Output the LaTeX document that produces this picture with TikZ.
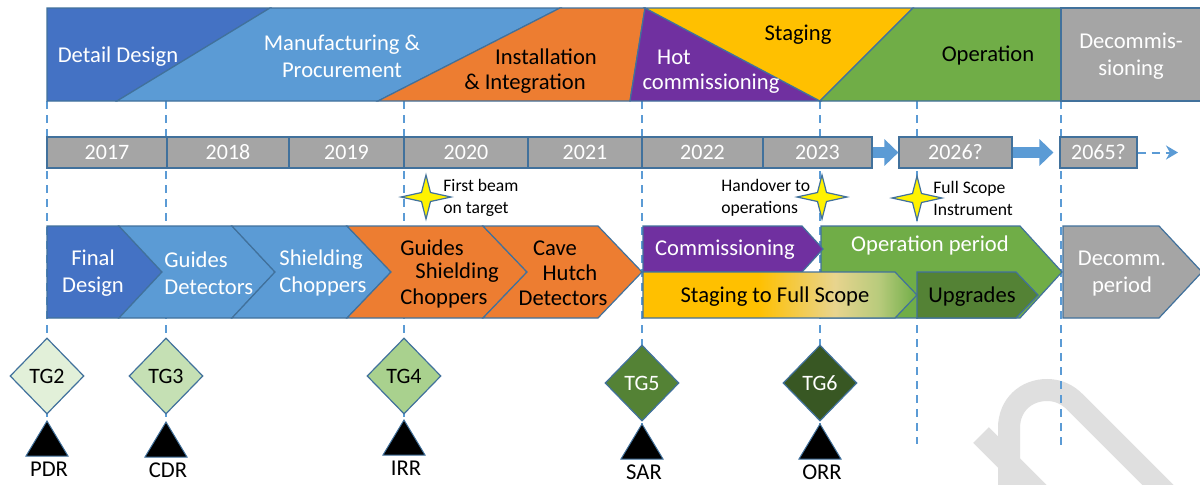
\documentclass[tikz,border=0pt]{standalone}
\usepackage{fontspec}
\setmainfont{Carlito}
\usepackage{xcolor}
\usepackage{tikz}
\usetikzlibrary{positioning, shapes, calc, arrows.meta}
\usetikzlibrary{shapes.geometric}

\definecolor{dblue}{HTML}{4472C4}
\definecolor{lblue}{HTML}{5B9BD5}
\definecolor{orng}{HTML}{ED7D31}
\definecolor{purp}{HTML}{7030A0}
\definecolor{yell}{HTML}{FFC000}
\definecolor{grn}{HTML}{70AD47}
\definecolor{gry}{HTML}{A5A5A5}
\definecolor{dgrn}{HTML}{548235}
\definecolor{ddgrn}{HTML}{385723}
\definecolor{rim}{HTML}{41719C}
\definecolor{tgtwo}{HTML}{E2F0D9}
\definecolor{tgthree}{HTML}{C5E0B4}
\definecolor{tgfour}{HTML}{A9D18E}
\definecolor{cream}{HTML}{E8D48E}
\definecolor{lgrn}{HTML}{B8CB7C}

\pgfdeclarehorizontalshading{stagefade}{100bp}{color(0bp)=(yell); color(25bp)=(yell); color(46bp)=(yell); color(60bp)=(cream); color(68bp)=(lgrn); color(75bp)=(grn); color(100bp)=(grn)}

\tikzset{
	band/.style={draw=rim, line width=0.6pt},
	guide/.style={draw=lblue, line width=1pt, dash pattern=on 4pt off 3pt},
	yearbox/.style={draw=rim, line width=0.6pt, fill=gry, text=white, minimum height=15.5pt, inner sep=0pt, font=\fontsize{11}{13}\selectfont},
	bigtext/.style={inner sep=0pt, font=\fontsize{11.3}{13.5}\selectfont},
	chevtext/.style={inner sep=0pt, align=left, font=\fontsize{11.3}{13.5}\selectfont},
	note/.style={inner sep=0pt, align=left, font=\fontsize{8.8}{11}\selectfont},
	gate/.style={diamond, draw=rim, line width=0.6pt, minimum width=37pt, minimum height=38pt, inner sep=0pt, font=\fontsize{11}{13}\selectfont},
	review/.style={fill=black, draw=rim, line width=0.5pt},
	starmark/.style={fill=yellow, draw=rim, line width=0.6pt},
	yeararrow/.style={draw=lblue, line width=5.5pt, -{Triangle[length=7pt,width=13pt]}}
}

\begin{document}
\begin{tikzpicture}[x=0.5pt, y=-0.5pt]
			\useasboundingbox (0,0) rectangle (1200,484);
			\fill [white] (0,0) rectangle (1200,484);
			
			% watermark
			\draw [gray!25, line width=11pt] (981,435) -- (1040,494);
			\draw [gray!25, line width=11pt] (1009,495) -- (1009,428) .. controls (1009,405) and (1026,390) .. (1047,390) .. controls (1059,390) and (1068,395) .. (1075,402) -- (1170,497);
			
			\foreach \gx/\gy in {47/421, 166/422, 404/420, 642/424, 820/424, 917/444, 1061/447}
				\draw [guide] (\gx,101) -- (\gx,\gy);
			
			\draw [band, fill=dblue] (47,8) -- (270,8) -- (117,101) -- (47,101) -- cycle;
			\draw [band, fill=lblue] (270,8) -- (560,8) -- (378,101) -- (117,101) -- cycle;
			\draw [band, fill=orng] (560,8) -- (645,8) -- (630,101) -- (378,101) -- cycle;
			\draw [band, fill=purp] (645,8) -- (820,101) -- (630,101) -- cycle;
			\draw [band, fill=yell] (645,8) -- (913,8) -- (820,101) -- cycle;
			\draw [band, fill=grn] (913,8) -- (1061,8) -- (1061,101) -- (820,101) -- cycle;
			\draw [band, fill=gry] (1061,8) -- (1202,8) -- (1202,101) -- (1061,101) -- cycle;
			
			\node [bigtext, text=white] (tdetail) at (118,57) {Detail Design};
			\node [bigtext, text=white, align=center] (tmanu) at (342,56) {Manufacturing \&\\Procurement};
			\node [bigtext] (tinst) at (546,57) {Installation};
			\node [bigtext] (tinteg) at (525,84) {\& Integration};
			\node [bigtext, text=white] (thot) at (674,57) {Hot};
			\node [bigtext, text=white] (thotcomm) at (711,84) {commissioning};
			\node [bigtext] (tstaging) at (798,35) {Staging};
			\node [bigtext] (toper) at (988,55) {Operation};
			\node [bigtext, text=white, align=center] (tdecom) at (1131,56) {Decommis-\\sioning};
			
			\foreach \a/\b/\n/\t in {47/167/y2017/2017, 167/289/y2018/2018, 289/404/y2019/2019, 404/528/y2020/2020, 528/642/y2021/2021, 642/763/y2022/2022, 763/872/y2023/2023, 899/1012/y2026/2026?, 1060/1137/y2065/2065?}
				\node [yearbox, minimum width=(\b-\a)*0.5pt] (\n) at ({(\a+\b)/2},152.5) {\t};
			
			\draw [yeararrow] (y2023.east) -- (y2026.west);
			\draw [yeararrow] (y2026.east) -- ($(y2065.west)+(-6,0)$);
			\coordinate (yearsend) at (1178,152.5);
			\draw [guide, -{Stealth[length=6pt,width=7pt]}] (y2065.east) -- (yearsend);
			
			\foreach \sx/\sy in {426/197, 822/197, 917/198}
				\draw [starmark] (\sx-25,\sy) -- (\sx-4.5,\sy-4.5) -- (\sx,\sy-22) -- (\sx+4.5,\sy-4.5) -- (\sx+25,\sy) -- (\sx+4.5,\sy+4.5) -- (\sx,\sy+22) -- (\sx-4.5,\sy+4.5) -- cycle;
			\node [note, anchor=west] (nbeam) at (443,198) {First beam\\on target};
			\node [note, anchor=west] (nhand) at (721,198) {Handover to\\operations};
			\node [note, anchor=west] (nscope) at (933,198) {Full Scope\\Instrument};
			
			% design and installation steps
			\draw [band, fill=dblue] (47,226) -- (119,226) -- (162,272) -- (119,318) -- (47,318) -- cycle;
			\draw [band, fill=lblue] (119,226) -- (232,226) -- (275,272) -- (232,318) -- (119,318) -- (162,272) -- cycle;
			\draw [band, fill=lblue] (232,226) -- (347,226) -- (391,272) -- (347,318) -- (232,318) -- (275,272) -- cycle;
			\draw [band, fill=orng] (347,226) -- (483,226) -- (527,272) -- (483,318) -- (347,318) -- (391,272) -- cycle;
			\draw [band, fill=orng] (483,226) -- (598,226) -- (642,272) -- (598,318) -- (483,318) -- (527,272) -- cycle;
			
			\node [chevtext, text=white, align=center] (cfinal) at (93,273) {Final\\Design};
			\node [chevtext, text=white, anchor=west] (cguides) at (164,273) {Guides\\Detectors};
			\node [chevtext, text=white, anchor=west] (cshield) at (279,273) {Shielding\\Choppers};
			\node [chevtext, anchor=west] (oguides) at (400,248) {Guides};
			\node [chevtext, anchor=west] (oshield) at (415,273) {Shielding};
			\node [chevtext, anchor=west] (ochop) at (400,298) {Choppers};
			\node [chevtext] (ocave) at (555,248) {Cave};
			\node [chevtext] (ohutch) at (570,273) {Hutch};
			\node [chevtext] (odet) at (563,298) {Detectors};
			
			% operation steps
			\draw [band, fill=grn] (821,226) -- (1020,226) -- (1062,272) -- (1020,318) -- (821,318) -- cycle;
			\draw [band, fill=purp] (643,226) -- (802,226) -- (823,249) -- (802,272) -- (643,272) -- cycle;
			\shadedraw [band, shading=stagefade] (643,272) -- (895,272) -- (917,295) -- (895,318) -- (643,318) -- cycle;
			\draw [band, fill=dgrn] (917,272) -- (1016,272) -- (1038,295) -- (1016,318) -- (917,318) -- cycle;
			\draw [band, fill=gry] (1063,226) -- (1159,226) -- (1202,272) -- (1159,318) -- (1063,318) -- cycle;
			
			\node [bigtext, text=white] (rcomm) at (725,250) {Commissioning};
			\node [bigtext, text=white] (roper) at (930,245) {Operation period};
			\node [bigtext] (rstage) at (775,297) {Staging to Full Scope};
			\node [bigtext] (rupg) at (972,297) {Upgrades};
			\node [bigtext, text=white, align=center] (rdecomm) at (1122,274) {Decomm.\\period};
			
			\node [gate, fill=tgtwo] (tg2) at (47,376) {TG2};
			\node [gate, fill=tgthree] (tg3) at (166,376) {TG3};
			\node [gate, fill=tgfour] (tg4) at (404,376) {TG4};
			\node [gate, fill=dgrn, text=white] (tg5) at (642,383) {TG5};
			\node [gate, fill=ddgrn, text=white] (tg6) at (820,383) {TG6};
			
			\foreach \rx/\ry/\n/\t in {47/421/pdr/PDR, 166/422/cdr/CDR, 404/420/irr/IRR, 642/424/sar/SAR, 820/424/orr/ORR}{
				\draw [review] (\rx,\ry) -- (\rx+21,\ry+35) -- (\rx-21,\ry+35) -- cycle;
				\node [bigtext] (\n) at (\rx+2,\ry+48) {\t};
			}
\end{tikzpicture}
\end{document}
